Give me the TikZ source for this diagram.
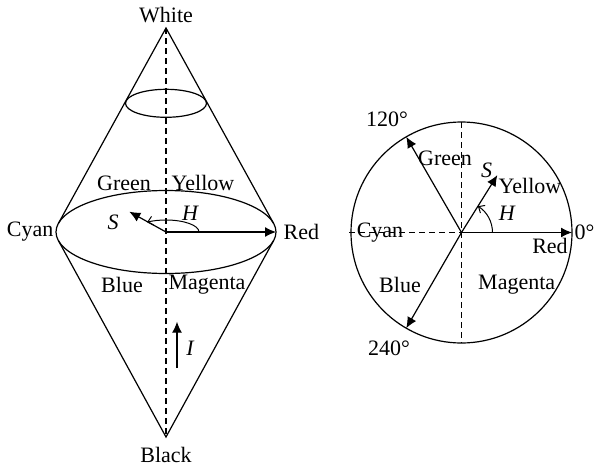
\documentclass[tikz,border=0pt]{standalone}
\usepackage{fontspec}
\setmainfont{Liberation Serif}
\usetikzlibrary{arrows.meta}

\begin{document}
\begin{tikzpicture}[x=0.5pt,y=0.5pt,
      line width=0.6pt,
      lbl/.style={font=\fontsize{11}{13}\selectfont, inner sep=0pt},
      axis/.style={dash pattern=on 3pt off 2pt},
      vec/.style={-{Latex[length=5.5pt,width=5pt]}},
      turn/.style={-{Straight Barb[length=2.5pt,width=4.5pt]}, line width=0.5pt},
      ]
      \useasboundingbox (0,0) rectangle (596,468);

      % cone
      \coordinate (white) at (166,440);
      \coordinate (black) at (166,31);
      \coordinate (o) at (166,236);
      \coordinate (ul) at (58.3,244.4);
      \coordinate (ur) at (273.7,244.4);
      \coordinate (ll) at (58.3,227.6);
      \coordinate (lr) at (273.7,227.6);
      \coordinate (red) at (276,236);
      \coordinate (s) at (129.3,256.3);
      \draw (o) ellipse [x radius=110, y radius=41.5];
      \draw (166,364.7) ellipse [x radius=40.5, y radius=14];
      \draw (ul) -- (white) -- (ur);
      \draw (ll) -- (black) -- (lr);
      \draw[axis] (white) -- (black);
      \draw[vec] (o) -- (red);
      \draw[vec] (o) -- (s);
      \draw[turn] (199,236) arc [start angle=0, end angle=125, x radius=33, y radius=12];
      \coordinate (ia) at (177,100);
      \coordinate (ib) at (177,146.3);
      \draw[vec] (ia) -- (ib);

      \node[lbl] (twhite) at (166,453) {White};
      \node[lbl] (tblack) at (166,13) {Black};
      \node[lbl, anchor=east] (tcyan) at (54,236) {Cyan};
      \node[lbl, anchor=west] (tred) at (283,236) {Red};
      \node[lbl] (tgreen) at (124,285) {Green};
      \node[lbl] (tyellow) at (203,285) {Yellow};
      \node[lbl] (tblue) at (122,183) {Blue};
      \node[lbl] (tmagenta) at (207,183) {Magenta};
      \node[lbl] (ts) at (113,246) {\itshape S};
      \node[lbl] (th) at (190,255) {\itshape H};
      \node[lbl] (ti) at (190,120) {\itshape I};

      % hue circle
      \coordinate (c) at (461.5,235.5);
      \draw (c) circle [radius=110.5];
      \coordinate (cl) at (349,235.5);
      \coordinate (ct) at (461.5,346);
      \coordinate (cb) at (461.5,125);
      \draw[axis] (cl) -- (c);
      \draw[axis] (ct) -- (cb);
      \draw[vec] (c) -- ++(0:110.5) coordinate (h0);
      \draw[vec] (c) -- ++(120:110.5) coordinate (h120);
      \draw[vec] (c) -- ++(240:110.5) coordinate (h240);
      \draw[vec] (c) -- ++(58:67.7) coordinate (sat);
      \draw[turn] (492.5,235.5) arc [start angle=0, end angle=58, radius=31];

      \node[lbl] (t120) at (387,349) {120°};
      \node[lbl, anchor=east] (t0) at (595,235.5) {0°};
      \node[lbl] (t240) at (389,120) {240°};
      \node[lbl] (cgreen) at (445,310) {Green};
      \node[lbl] (cs) at (486.7,298) {\itshape S};
      \node[lbl] (cyellow) at (530,282) {Yellow};
      \node[lbl] (ch) at (506.7,255) {\itshape H};
      \node[lbl] (ccyan) at (380,235.5) {Cyan};
      \node[lbl] (cred) at (550,222) {Red};
      \node[lbl] (cblue) at (400,183) {Blue};
      \node[lbl] (cmagenta) at (516.7,183) {Magenta};
\end{tikzpicture}
\end{document}
